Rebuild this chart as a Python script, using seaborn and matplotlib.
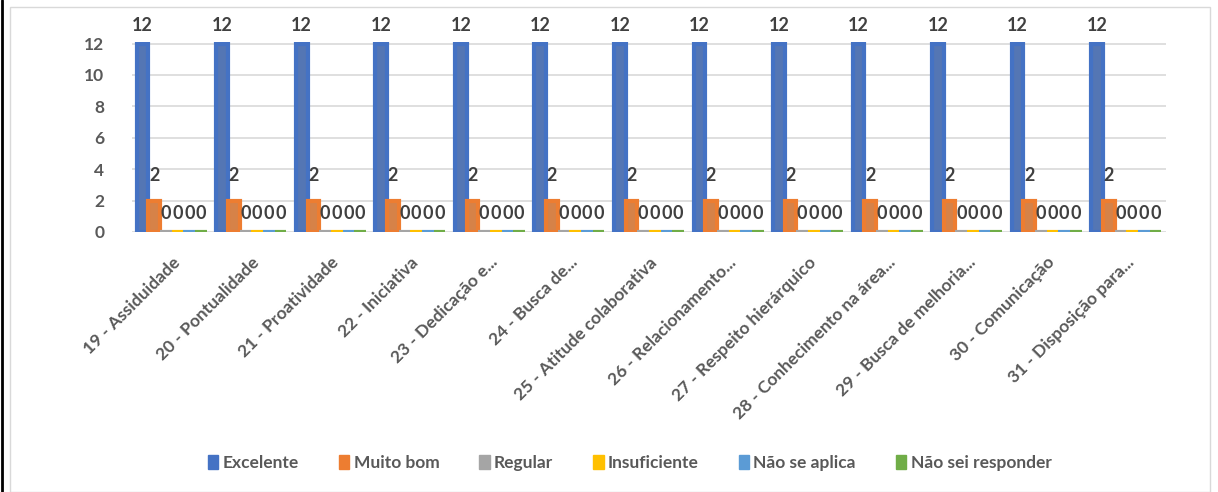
import pandas as pd
import matplotlib
matplotlib.use("Agg")
import matplotlib.pyplot as plt
import seaborn as sns
from matplotlib.patches import Rectangle
from matplotlib.lines import Line2D

sns.set_theme(style="white")
plt.rcParams['font.family'] = ['Lato', 'DejaVu Sans']

categories = [
    "19 - Assiduidade", "20 - Pontualidade", "21 - Proatividade", "22 - Iniciativa",
    "23 - Dedicação e...", "24 - Busca de...", "25 - Atitude colaborativa",
    "26 - Relacionamento...", "27 - Respeito hierárquico", "28 - Conhecimento na área...",
    "29 - Busca de melhoria...", "30 - Comunicação", "31 - Disposição para...",
]
series = ["Excelente", "Muito bom", "Regular", "Insuficiente", "Não se aplica", "Não sei responder"]
excelente = [12] * 13
muito_bom = [2] * 13
regular = [0] * 13
insuficiente = [0] * 13
nao_aplica = [0] * 13
nao_sei = [0] * 13
colors = ["#4472C4", "#ED7D31", "#A5A5A5", "#FFC000", "#5B9BD5", "#70AD47"]

values = [excelente, muito_bom, regular, insuficiente, nao_aplica, nao_sei]
rows = []
for s, vals in zip(series, values):
    for c, v in zip(categories, vals):
        rows.append({"categoria": c, "serie": s, "valor": v})
df = pd.DataFrame(rows)

fig = plt.figure(figsize=(12.18, 4.92), dpi=100)
ax = fig.add_axes([132 / 1218, 1 - 232 / 492, 1034 / 1218, 190 / 492])

sns.barplot(data=df, x="categoria", y="valor", hue="serie", palette=colors,
            width=0.88, gap=0, ax=ax, legend=False)

# bordas da mesma cor; barras nulas aparecem como faixas finas
for bars, col in zip(ax.containers, colors):
    for b in bars:
        b.set_edgecolor(col)
        b.set_linewidth(3)
        b.set_joinstyle("miter")

txt_color = "#404040"
pads = [7, 12, 7, 7, 7, 7]
for bars, p in zip(ax.containers, pads):
    ax.bar_label(bars, padding=p, fontsize=13, fontweight="bold", color=txt_color, clip_on=False)

ax.set_ylim(0, 12.1)
ax.set_xlim(-0.5, 12.5)
ax.set_yticks(range(0, 13, 2))
ax.grid(axis="y", color="#D9D9D9", linewidth=1.2)
ax.set_axisbelow(True)
for sp in ax.spines.values():
    sp.set_visible(False)
ax.set_xlabel("")
ax.set_ylabel("")
ax.tick_params(axis="y", labelsize=12.5, labelcolor="#595959", pad=20, length=0)
ax.tick_params(axis="x", labelsize=12.5, labelcolor="#595959", length=0, pad=16)
for t in ax.get_yticklabels():
    t.set_fontweight("bold")
plt.setp(ax.get_xticklabels(), rotation=45, ha="right", rotation_mode="anchor", fontweight="bold")

handles = [Rectangle((0, 0), 1, 1, color=c) for c in colors]
fig.legend(handles, series, loc="center", bbox_to_anchor=(0.517, 1 - 463 / 492), ncol=6,
           frameon=False, handlelength=0.6, handleheight=0.8, handletextpad=0.25,
           columnspacing=2.3, prop={"weight": "bold", "size": 12.5}, labelcolor="#595959")

# moldura do gráfico e borda da página
fig.add_artist(Rectangle((10 / 1218, 0), 1200 / 1218, 1 - 7 / 492, transform=fig.transFigure,
                         fill=False, edgecolor="#D9D9D9", linewidth=1))
fig.add_artist(Line2D([1.5 / 1218, 1.5 / 1218], [0, 1], transform=fig.transFigure, color="black", linewidth=2))

fig.savefig("out.png", dpi=100)
